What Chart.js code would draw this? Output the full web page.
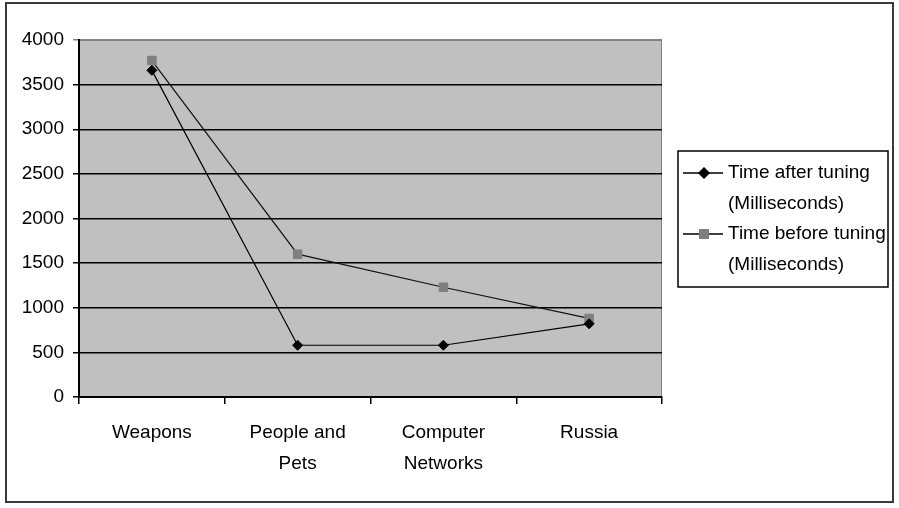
<!DOCTYPE html>
<html>
<head>
<meta charset="utf-8">
<script src="https://cdn.jsdelivr.net/npm/chart.js"></script>
<style>
  html, body { margin: 0; padding: 0; background: #fff; }
  #wrap { position: relative; width: 899px; height: 508px; }
</style>
</head>
<body>
<div id="wrap"><canvas id="tuningChart" width="899" height="508"></canvas></div>

<script>
    // data
    const categories = ['Weapons', ['People and', 'Pets'], ['Computer', 'Networks'], 'Russia'];
    const afterTuning = [3660, 580, 580, 820];
    const beforeTuning = [3770, 1600, 1230, 880];
    const seriesNames = [['Time after tuning', '(Milliseconds)'], ['Time before tuning', '(Milliseconds)']];
    const yMin = 0, yMax = 4000, yStep = 500;

    const font = "'Liberation Sans', Arial, sans-serif";

    // gray plot area + outer frame
    const backdrop = {
        id: 'backdrop',
        beforeDraw(chart) {
            const { ctx, chartArea: a } = chart;
            ctx.save();
            ctx.fillStyle = '#fff';
            ctx.fillRect(0, 0, chart.width, chart.height);
            ctx.strokeStyle = '#3a3a3a';
            ctx.lineWidth = 2;
            ctx.strokeRect(6, 3, 887, 499);
            ctx.fillStyle = '#c0c0c0';
            ctx.fillRect(a.left, a.top, a.right - a.left, a.bottom - a.top);
            ctx.strokeStyle = '#808080';
            ctx.lineWidth = 1;
            ctx.strokeRect(a.left, a.top + 0.5, a.right - a.left - 0.5, a.bottom - a.top);
            ctx.restore();
        }
    };

    // boxed legend with two-line labels, like the Excel one
    const boxLegend = {
        id: 'boxLegend',
        afterDraw(chart) {
            const { ctx } = chart;
            const box = { x: 678, y: 151, w: 210, h: 136 };
            ctx.save();
            ctx.strokeStyle = '#000';
            ctx.lineWidth = 1.5;
            ctx.strokeRect(box.x, box.y, box.w, box.h);
            ctx.font = '19px ' + font;
            ctx.textBaseline = 'middle';
            ctx.fillStyle = '#000';
            chart.data.datasets.forEach((ds, i) => {
                const y = 173 + i * 61;
                ctx.strokeStyle = '#000';
                ctx.lineWidth = 1.5;
                ctx.beginPath();
                ctx.moveTo(683, y);
                ctx.lineTo(723, y);
                ctx.stroke();
                Chart.helpers.drawPoint(ctx, {
                    pointStyle: ds.pointStyle,
                    radius: ds.pointRadius,
                    rotation: 0
                }, 704, y);
                ctx.fillStyle = ds.pointBackgroundColor;
                ctx.strokeStyle = ds.pointBorderColor;
                ctx.fill();
                ctx.stroke();
                ctx.fillStyle = '#000';
                seriesNames[i].forEach((line, j) => ctx.fillText(line, 728, y + j * 31));
            });
            ctx.restore();
        }
    };

    new Chart(document.getElementById('tuningChart'), {
        type: 'line',
        data: {
            labels: categories,
            datasets: [
                {
                    label: seriesNames[0].join(' '),
                    data: afterTuning,
                    borderColor: '#000',
                    borderWidth: 1.2,
                    pointStyle: 'rectRot',
                    pointRadius: 5,
                    pointBackgroundColor: '#000',
                    pointBorderColor: '#000',
                    pointBorderWidth: 1,
                    tension: 0
                },
                {
                    label: seriesNames[1].join(' '),
                    data: beforeTuning,
                    borderColor: '#111',
                    borderWidth: 1.2,
                    pointStyle: 'rect',
                    pointRadius: 6,
                    pointBackgroundColor: '#7f7f7f',
                    pointBorderColor: '#7f7f7f',
                    pointBorderWidth: 1,
                    tension: 0
                }
            ]
        },
        options: {
            responsive: false,
            animation: false,
            layout: { padding: { top: 40, right: 237, bottom: 0, left: 0 } },
            plugins: {
                legend: { display: false },
                tooltip: { enabled: false }
            },
            scales: {
                x: {
                    offset: true,
                    afterFit: (s) => { s.height = 111; },
                    grid: { offset: true, drawOnChartArea: false, drawTicks: true, tickLength: 7, color: '#000', lineWidth: 1.5 },
                    border: { color: '#000', width: 2 },
                    ticks: { color: '#000', padding: 13, maxRotation: 0, font: { family: font, size: 19, lineHeight: 1.65 } }
                },
                y: {
                    min: yMin,
                    max: yMax,
                    afterFit: (s) => { s.width = 79; },
                    grid: {
                        color: (c) => c.tick && c.tick.value === yMax ? '#808080' : '#000',
                        lineWidth: 1.5,
                        tickLength: 6
                    },
                    border: { color: '#000', width: 2 },
                    ticks: {
                        stepSize: yStep,
                        color: '#000',
                        padding: 9,
                        font: { family: font, size: 19 },
                        callback: (v) => String(v)
                    }
                }
            }
        },
        plugins: [backdrop, boxLegend]
    });
</script>
</body>
</html>
